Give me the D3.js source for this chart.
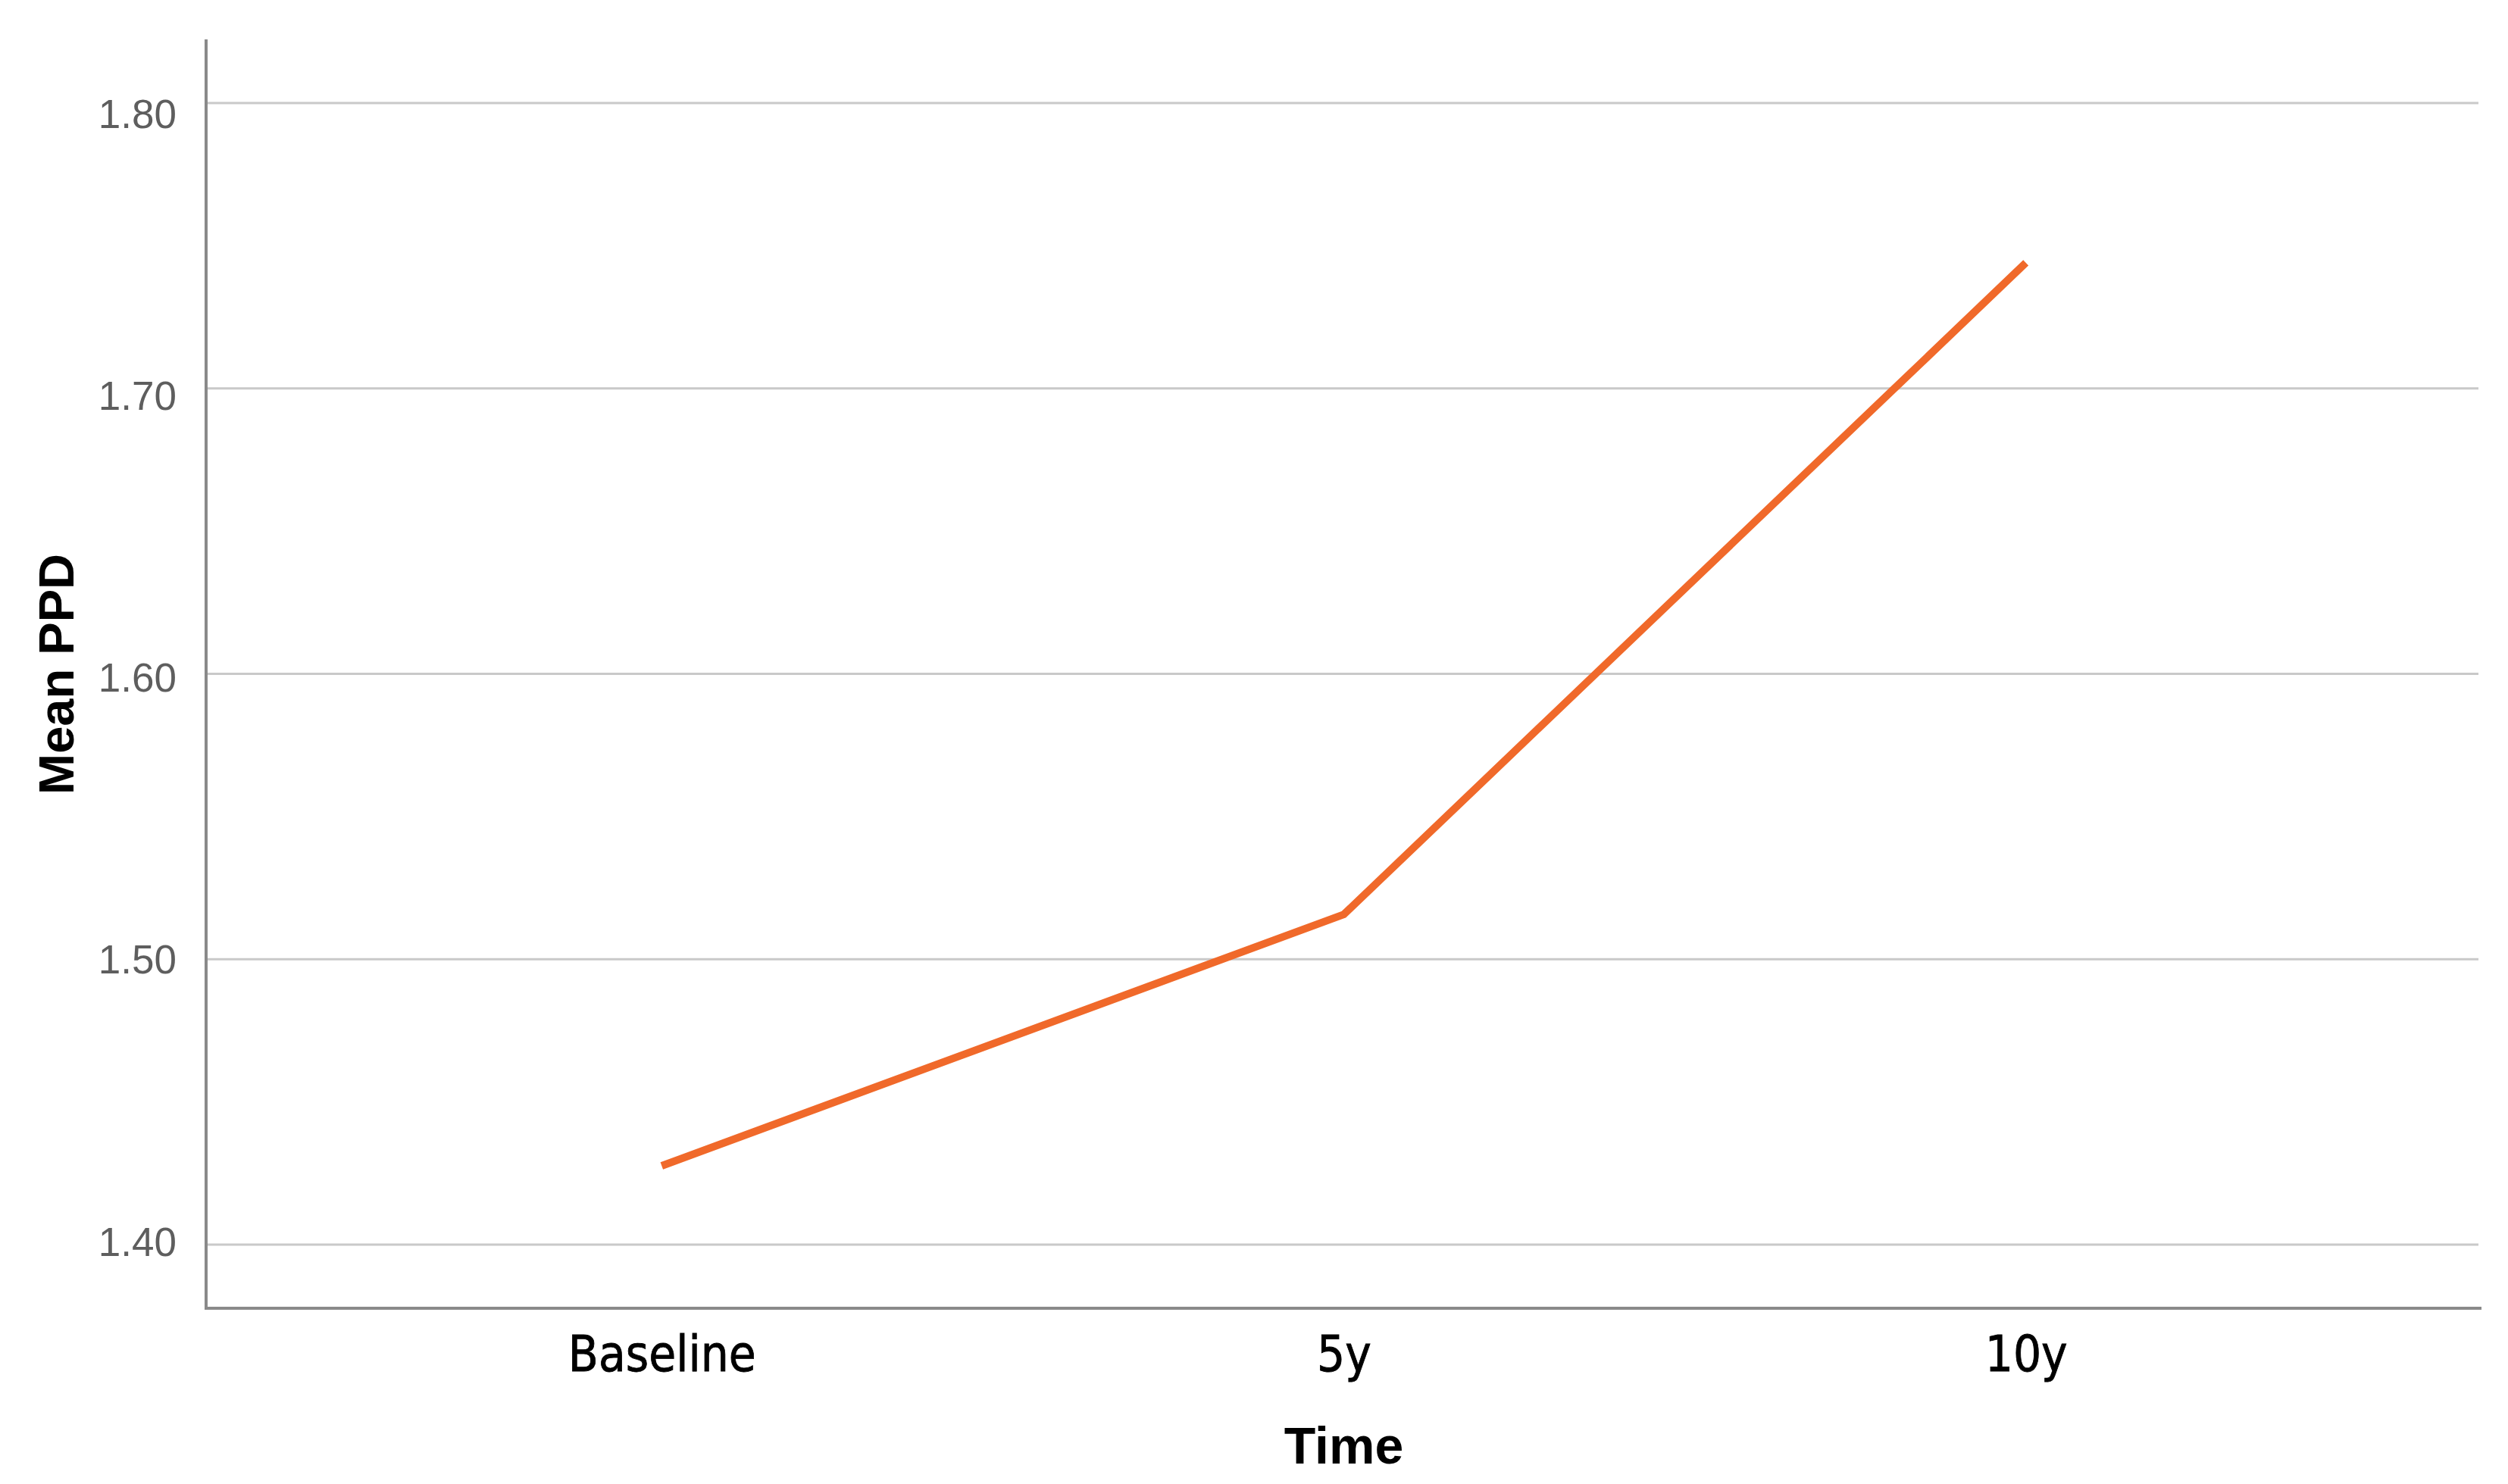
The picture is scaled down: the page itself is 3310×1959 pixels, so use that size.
<!DOCTYPE html>
<html><head><meta charset="utf-8">
<script src="https://cdn.jsdelivr.net/npm/d3@7"></script>
<style>html,body{margin:0;padding:0;background:#fff;}</style>
</head><body>
<script>
const categories = ["Baseline", "5y", "10y"];
const meanPPD = [1.4276, 1.5157, 1.744];
const yTicks = [1.40, 1.50, 1.60, 1.70, 1.80];

const W = 3310, H = 1959;
const mLeft = 272, mRight = 3275, mTop = 52, mBottom = 1727;

const svg = d3.select("body").append("svg").attr("width", W).attr("height", H);

const x = d3.scalePoint().domain(categories).range([mLeft, mRight]).padding(0.668);
const y = d3.scaleLinear().domain([1.3777, 1.8223]).range([mBottom, mTop]);
// tick label placement (labels sit slightly off their gridlines in the original)
const yLab = d3.scaleLinear().domain([1.40, 1.80]).range([1638, 149]);

// gridlines
svg.append("g").selectAll("line").data(yTicks).join("line")
  .attr("x1", mLeft).attr("x2", 3271)
  .attr("y1", d => y(d)).attr("y2", d => y(d))
  .attr("stroke", "#c9c9c9").attr("stroke-width", 3);

// y axis
const yAxis = d3.axisLeft(yLab).tickValues(yTicks).tickFormat(d3.format(".2f")).tickSize(0).tickPadding(39);
const gy = svg.append("g").attr("transform", `translate(${mLeft},0)`).call(yAxis);
gy.select(".domain").remove();
gy.selectAll("text").attr("font-family", "'Liberation Sans', Arial, sans-serif")
  .attr("font-size", 53).attr("fill", "#5e5e5e").attr("dy", "0.36em");

// x axis
const xAxis = d3.axisBottom(x).tickSize(0).tickPadding(0);
const gx = svg.append("g").attr("transform", `translate(0,${mBottom})`).call(xAxis);
gx.select(".domain").remove();
gx.selectAll("text").attr("font-family", "'DejaVu Sans Condensed', 'DejaVu Sans', sans-serif")
  .attr("font-size", 65).attr("fill", "#000").attr("stroke", "#000").attr("stroke-width", 0.8)
  .attr("y", 83).attr("dy", 0);

// axis lines
svg.append("line").attr("x1", mLeft).attr("x2", mLeft).attr("y1", mTop).attr("y2", mBottom + 2)
  .attr("stroke", "#8a8a8a").attr("stroke-width", 4);
svg.append("line").attr("x1", mLeft - 2).attr("x2", mRight).attr("y1", mBottom).attr("y2", mBottom)
  .attr("stroke", "#8a8a8a").attr("stroke-width", 4);

// line
const line = d3.line().x((d, i) => x(categories[i])).y(d => y(d));
svg.append("path").datum(meanPPD).attr("d", line)
  .attr("fill", "none").attr("stroke", "#F0692A").attr("stroke-width", 10)
  .attr("stroke-linejoin", "round");

// axis titles
svg.append("text").attr("x", (mLeft + mRight) / 2).attr("y", 1932)
  .attr("text-anchor", "middle").attr("font-family", "'Liberation Sans', Arial, sans-serif")
  .attr("font-weight", "bold").attr("font-size", 68).attr("fill", "#000").text("Time");
svg.append("text").attr("transform", `translate(97,890) rotate(-90)`)
  .attr("text-anchor", "middle").attr("font-family", "'Liberation Sans', Arial, sans-serif")
  .attr("font-weight", "bold").attr("font-size", 65).attr("fill", "#000").text("Mean PPD");
</script>
</body></html>
